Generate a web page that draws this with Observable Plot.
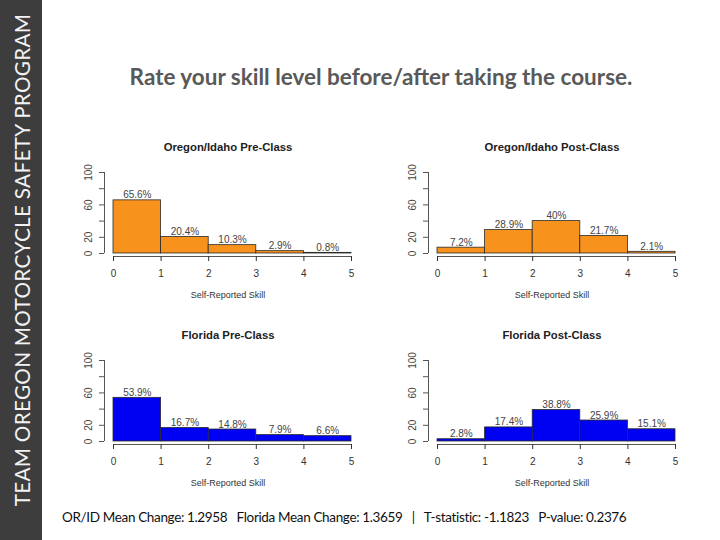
<!DOCTYPE html>
<html>
<head>
<meta charset="utf-8">
<script src="https://cdn.jsdelivr.net/npm/d3@7"></script>
<script src="https://cdn.jsdelivr.net/npm/@observablehq/plot@0.6"></script>
<style>
  body { margin: 0; background: #fff; }
  #slide { position: relative; width: 720px; height: 540px; overflow: hidden; background: #fff; }
  #band { position: absolute; left: 0; top: 0; width: 42px; height: 540px; background: #3d3d3d; }
  #band span {
    position: absolute; left: 22px; top: 260px;
    transform: translate(-50%, -50%) rotate(-90deg);
    white-space: nowrap; color: #f2f2f2; font: 20.7px Lato, sans-serif; letter-spacing: 0.3px;
  }
  #title {
    position: absolute; left: 60px; width: 642px; top: 62px; text-align: center;
    font: bold 22.5px Lato, sans-serif; color: #595959; line-height: 30px;
  }
  #caption {
    position: absolute; left: 62px; top: 508px; white-space: pre;
    font: 13.5px Lato, sans-serif; color: #111; line-height: 18px; letter-spacing: -0.35px;
  }
  .panel { position: absolute; }
  .panel svg { display: block; }
</style>
</head>
<body>
<div id="slide">
  <div id="band"><span>TEAM OREGON MOTORCYCLE SAFETY PROGRAM</span></div>
  <div id="title">Rate your skill level before/after taking the course.</div>
  <div class="panel" id="p-or-pre" style="left:60px;top:130px"></div>
  <div class="panel" id="p-or-post" style="left:384px;top:130px"></div>
  <div class="panel" id="p-fl-pre" style="left:60px;top:318px"></div>
  <div class="panel" id="p-fl-post" style="left:384px;top:318px"></div>
  <div id="caption"></div>
</div>
<script>
// Histogram bin edges (self-reported skill, 0–5)
const binEdges = [0, 1, 2, 3, 4, 5];
const xTicks = [0, 1, 2, 3, 4, 5];
const yTicks = [0, 20, 40, 60, 80, 100];
const yTickLabels = [0, 20, 60, 100];

// Percent of respondents in each skill bin
const oregonPre = [65.6, 20.4, 10.3, 2.9, 0.8];
const oregonPost = [7.2, 28.9, 40, 21.7, 2.1];
const floridaPre = [53.9, 16.7, 14.8, 7.9, 6.6];
const floridaPost = [2.8, 17.4, 38.8, 25.9, 15.1];

const panelTitles = ["Oregon/Idaho Pre-Class", "Oregon/Idaho Post-Class", "Florida Pre-Class", "Florida Post-Class"];
const axisTitle = "Self-Reported Skill";

const captionParts = ["OR/ID Mean Change: 1.2958", "Florida Mean Change: 1.3659", "|", "T-statistic: -1.1823", "P-value: 0.2376"];

const ORANGE = "#f7921c";
const BLUE = "#0000f2";

function histogram(values, fill, title) {
  const rows = values.map((v, i) => ({x1: binEdges[i], x2: binEdges[i + 1], pct: v}));
  return Plot.plot({
    width: 310,
    height: 180,
    marginLeft: 44,
    marginRight: 19,
    marginTop: 42,
    marginBottom: 54,
    x: {domain: [0, 5], insetLeft: 9},
    y: {domain: [0, 100], insetBottom: 3},
    style: {
      fontFamily: "'Liberation Sans', Arial, sans-serif",
      fontSize: "10px",
      color: "#333",
      background: "transparent",
      overflow: "visible"
    },
    marks: [
      Plot.rectY(rows, {x1: "x1", x2: "x2", y: "pct", fill, stroke: "#2a2a2a", strokeWidth: 0.8}),
      Plot.text(rows, {
        x: d => (d.x1 + d.x2) / 2, y: "pct", text: d => d.pct + "%",
        lineAnchor: "bottom", dy: -2, fill: "#444", fontSize: 10
      }),
      // axis lines, R-style: offset from the data region
      Plot.ruleY([0], {x1: 0, x2: 5, dy: 3, stroke: "#555"}),
      Plot.ruleX([0], {y1: 0, y2: 100, dx: -9, stroke: "#555"}),
      Plot.axisX({ticks: xTicks, tickSize: 5, tickPadding: 8, tickFormat: d => String(d), label: null, fontSize: 10, color: "#333"}),
      Plot.axisY({ticks: yTicks, tickSize: 5, tickFormat: () => "", label: null, color: "#555"}),
      Plot.text(yTickLabels, {
        y: d => d, text: d => String(d), frameAnchor: "left", textAnchor: "middle", lineAnchor: "middle",
        dx: -16, rotate: -90, fill: "#444", fontSize: 10
      }),
      Plot.text([title], {text: d => d, frameAnchor: "top", lineAnchor: "middle", dy: -25, fontWeight: "bold", fontSize: 11.3, fill: "#222"}),
      Plot.text([axisTitle], {text: d => d, frameAnchor: "bottom", lineAnchor: "middle", dy: 39, fill: "#333", fontSize: 9})
    ]
  });
}

document.getElementById("p-or-pre").append(histogram(oregonPre, ORANGE, panelTitles[0]));
document.getElementById("p-or-post").append(histogram(oregonPost, ORANGE, panelTitles[1]));
document.getElementById("p-fl-pre").append(histogram(floridaPre, BLUE, panelTitles[2]));
document.getElementById("p-fl-post").append(histogram(floridaPost, BLUE, panelTitles[3]));

document.getElementById("caption").textContent = captionParts.join("   ");
</script>
</body>
</html>
